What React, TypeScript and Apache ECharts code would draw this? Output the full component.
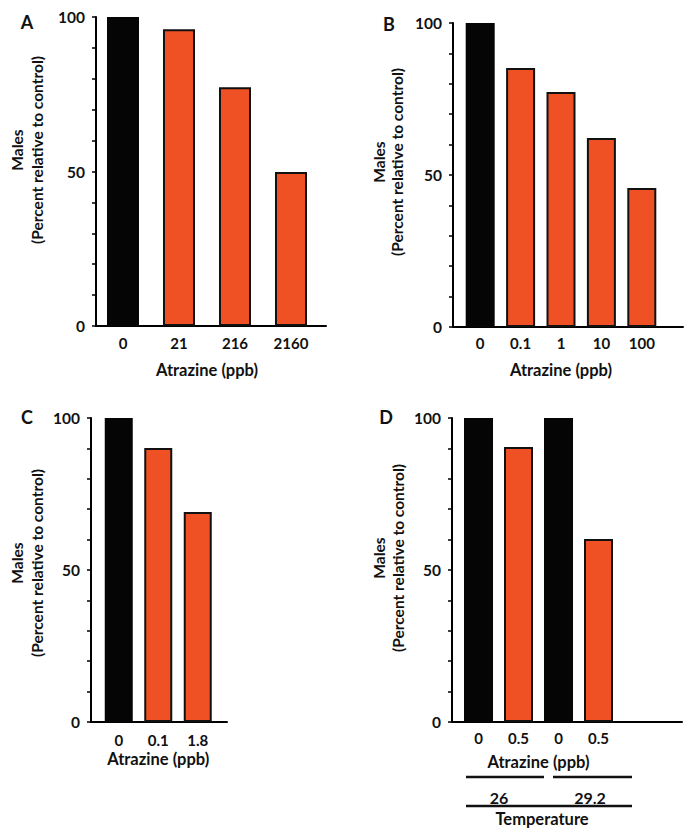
import React, { useEffect, useRef } from "react";
import * as echarts from "echarts";

const catsA = ["0", "21", "216", "2160"];
const valsA = [100, 96, 77.3, 49.8];
const catsB = ["0", "0.1", "1", "10", "100"];
const valsB = [100, 85.2, 77.3, 62.2, 45.7];
const catsC = ["0", "0.1", "1.8"];
const valsC = [100, 90.1, 69.1];
const catsD = ["0", "0.5", "0", "0.5"];
const valsD = [100, 90.5, 100, 60.2];
const controlFlagsD = [true, false, true, false];
const yTickLabels = [0, 50, 100];
const panelLetters = ["A", "B", "C", "D"];
const xTitle = "Atrazine (ppb)";
const yTitle1 = "Males";
const yTitle2 = "(Percent relative to control)";
const tempLabels = ["26", "29.2"];
const tempTitle = "Temperature";

const FONT = "Lato";
const ORANGE = "#EF5125";

export default function App() {
  const ref = useRef<HTMLDivElement>(null);
  useEffect(() => {
    document.body.style.margin = "0";
    const chart = echarts.init(ref.current!, undefined, { renderer: "svg" });

    const panels = [
      { cats: catsA, vals: valsA, ctrl: catsA.map((_, i) => i === 0), top: 17, h: 309, frameL: 96, frameW: 230, barL: 95, barW: 224, bw: 32, lm: 9, ng: 35, lx1: 17, lx2: 37, ly: 150, px: 27, py: 22 },
      { cats: catsB, vals: valsB, ctrl: catsB.map((_, i) => i === 0), top: 23, h: 304, frameL: 453, frameW: 230, barL: 460, barW: 202, bw: 29, lm: 8, ng: 34, lx1: 379, lx2: 397, ly: 162, px: 389, py: 24 },
      { cats: catsC, vals: valsC, ctrl: catsC.map((_, i) => i === 0), top: 418, h: 304, frameL: 91, frameW: 136, barL: 99, barW: 118.5, bw: 28, lm: 10, ng: 28, lx1: 17, lx2: 37, ly: 563, px: 27, py: 417 },
      { cats: catsD, vals: valsD, ctrl: controlFlagsD, top: 418, h: 304, frameL: 452, frameW: 230, barL: 458.5, barW: 160, bw: 29, lm: 8, ng: 31, lx1: 379, lx2: 398, ly: 558, px: 386, py: 417 },
    ];

    const grid: any[] = [];
    const xAxis: any[] = [];
    const yAxis: any[] = [];
    const series: any[] = [];
    const graphic: any[] = [];
    const textStyle = { fontFamily: FONT, fontWeight: "bold", color: "#111" };

    panels.forEach((p, i) => {
      const fi = grid.length;
      grid.push({ left: p.frameL, top: p.top, width: p.frameW, height: p.h });
      const bi = grid.length;
      grid.push({ left: p.barL, top: p.top, width: p.barW, height: p.h });

      xAxis.push({
        type: "category", gridIndex: fi, data: [""],
        axisLine: { show: true, lineStyle: { color: "#000", width: 2 } },
        axisTick: { show: false }, axisLabel: { show: false }, splitLine: { show: false },
      });
      yAxis.push({
        type: "value", gridIndex: fi, min: 0, max: 100, interval: 10,
        axisLine: { show: true, lineStyle: { color: "#000", width: 2 } },
        axisTick: { show: true, length: 4, lineStyle: { color: "#000", width: 1.5 } },
        axisLabel: {
          margin: 11, fontSize: 15.5, ...textStyle,
          formatter: (v: number) => (yTickLabels.includes(v) ? String(v) : ""),
        },
        splitLine: { show: false },
      });
      xAxis.push({
        type: "category", gridIndex: bi, data: p.cats,
        axisLine: { show: false }, axisTick: { show: false },
        axisLabel: { margin: p.lm, fontSize: 15, ...textStyle, interval: 0 },
        name: xTitle, nameLocation: "middle", nameGap: p.ng,
        nameTextStyle: { fontSize: 16.5, ...textStyle },
      });
      yAxis.push({ type: "value", gridIndex: bi, min: 0, max: 100, show: false });

      series.push({
        type: "bar", xAxisIndex: xAxis.length - 1, yAxisIndex: yAxis.length - 1,
        barWidth: p.bw,
        data: p.vals.map((v, k) => ({
          value: v,
          itemStyle: p.ctrl[k]
            ? { color: "#050505", borderColor: "#050505", borderWidth: 0 }
            : { color: ORANGE, borderColor: "#111", borderWidth: 2 },
        })),
      });

      graphic.push(
        { type: "text", x: p.px, y: p.py, style: { text: panelLetters[i], fontSize: 18, ...textStyle, fill: "#111", align: "center", verticalAlign: "middle" } },
        { type: "text", x: p.lx1, y: p.ly, rotation: Math.PI / 2, style: { text: yTitle1, fontSize: 15.5, ...textStyle, fill: "#111", align: "center", verticalAlign: "middle" } },
        { type: "text", x: p.lx2, y: p.ly, rotation: Math.PI / 2, style: { text: yTitle2, fontSize: 15.5, ...textStyle, fill: "#111", align: "center", verticalAlign: "middle" } },
      );
    });

    graphic.push(
      { type: "line", shape: { x1: 466, y1: 777, x2: 544, y2: 777 }, style: { stroke: "#111", lineWidth: 2.5 } },
      { type: "line", shape: { x1: 553, y1: 777, x2: 632, y2: 777 }, style: { stroke: "#111", lineWidth: 2.5 } },
      { type: "text", x: 499, y: 797, style: { text: tempLabels[0], fontSize: 16, ...textStyle, fill: "#111", align: "center", verticalAlign: "middle" } },
      { type: "text", x: 590, y: 797, style: { text: tempLabels[1], fontSize: 16, ...textStyle, fill: "#111", align: "center", verticalAlign: "middle" } },
      { type: "line", shape: { x1: 466, y1: 806, x2: 632, y2: 806 }, style: { stroke: "#111", lineWidth: 2.5 } },
      { type: "text", x: 542, y: 819, style: { text: tempTitle, fontSize: 16.5, ...textStyle, fill: "#111", align: "center", verticalAlign: "middle" } },
    );

    chart.setOption({
      animation: false,
      backgroundColor: "#fff",
      grid, xAxis, yAxis, series, graphic,
    });
    return () => chart.dispose();
  }, []);
  return <div ref={ref} style={{ width: 692, height: 835 }} />;
}
